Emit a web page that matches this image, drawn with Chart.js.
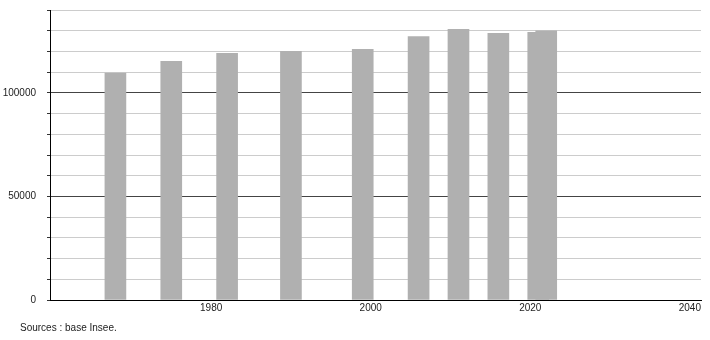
<!DOCTYPE html>
<html>
<head>
<meta charset="utf-8">
<script src="https://cdn.jsdelivr.net/npm/chart.js@4/dist/chart.umd.min.js"></script>
<style>
  body { margin: 0; background: #fff; }
  #wrap { position: relative; width: 710px; height: 340px; }
  #source { position: absolute; left: 20px; top: 322px; font: 10px "Liberation Sans", Arial, sans-serif; color: #222; }
</style>
</head>
<body>
<div id="wrap">
  <canvas id="popChart" width="710" height="340"></canvas>
  <div id="source">Sources : base Insee.</div>
</div>
<script>
// années de recensement et population
const annees = [1968, 1975, 1982, 1990, 1999, 2006, 2011, 2016, 2021, 2022];
const population = [109600, 115200, 119100, 120000, 121000, 127200, 130700, 128700, 129200, 129900];
const xTicks = [1980, 2000, 2020, 2040];
const yLabels = [0, 50000, 100000];

const ctx = document.getElementById('popChart').getContext('2d');
const points = annees.map((a, i) => ({ x: a, y: population[i] }));

new Chart(ctx, {
  type: 'bar',
  data: {
    datasets: [{
      data: points,
      backgroundColor: '#b0b0b0',
      borderWidth: 0,
      barThickness: 21
    }]
  },
  options: {
    responsive: false,
    animation: false,
    devicePixelRatio: 1,
    layout: { padding: { top: 10, right: 9, left: 0, bottom: 0 } },
    plugins: { legend: { display: false }, tooltip: { enabled: false } },
    scales: {
      x: {
        type: 'linear',
        min: 1959.8,
        max: 2041.4,
        offset: false,
        afterBuildTicks: (scale) => { scale.ticks = xTicks.map(v => ({ value: v })); },
        afterFit: (scale) => {
          scale.height = 40;
          scale.paddingLeft = 0;
          scale.paddingRight = 0;
        },
        grid: { display: false, drawTicks: false },
        border: { display: true, color: '#000', width: 1 },
        ticks: {
          autoSkip: false,
          maxRotation: 0,
          padding: 2,
          color: '#222',
          font: { family: 'Liberation Sans', size: 10 },
          callback: (v) => String(v)
        }
      },
      y: {
        min: 0,
        max: 140000,
        afterFit: (scale) => {
          scale.width = 50;
          scale.paddingTop = 0;
          scale.paddingBottom = 0;
        },
        grid: {
          color: (c) => (c.tick && c.tick.value % 50000 === 0) ? '#444' : '#cccccc',
          tickColor: '#333',
          tickLength: 3
        },
        border: { display: true, color: '#000', width: 1 },
        ticks: {
          stepSize: 10000,
          autoSkip: false,
          padding: 11,
          color: '#222',
          font: { family: 'Liberation Sans', size: 10 },
          callback: (v) => yLabels.includes(v) ? String(v) : ''
        }
      }
    }
  }
});
</script>
</body>
</html>
